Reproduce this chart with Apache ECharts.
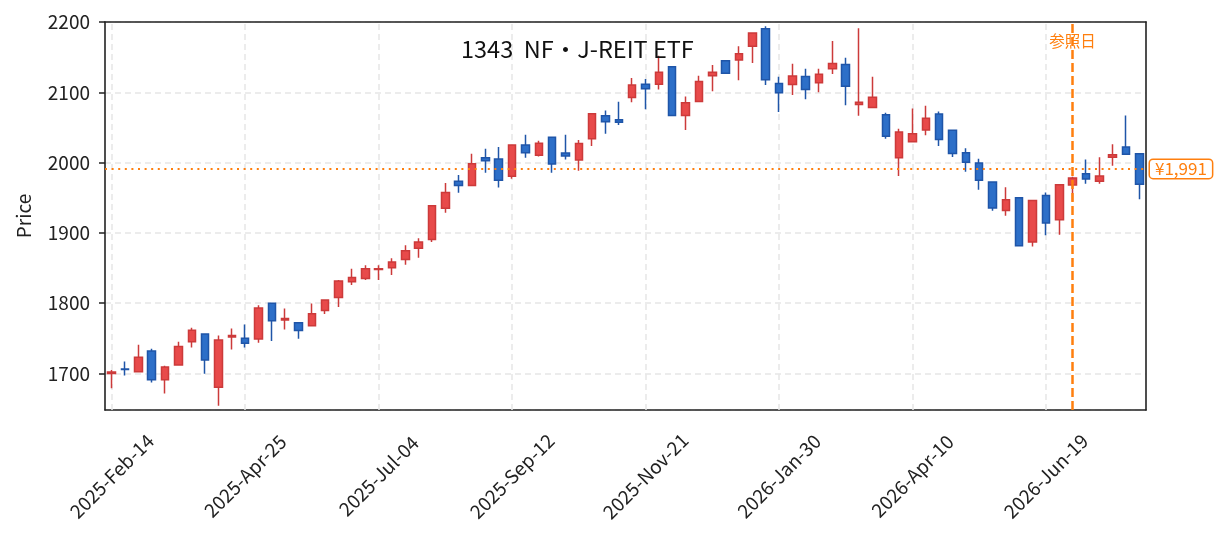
<!DOCTYPE html>
<html>
<head>
<meta charset="utf-8">
<script src="https://cdn.jsdelivr.net/npm/echarts@6/dist/echarts.min.js"></script>
<style>
  html, body { margin: 0; padding: 0; background: #fff; }
  #main { width: 1225px; height: 539px; }
</style>
</head>
<body>
<div id="main"></div>
<script>
// weekly bars, Friday dates
const dates = [
  '2025-Feb-14', '2025-Feb-21', '2025-Feb-28', '2025-Mar-07', '2025-Mar-14', '2025-Mar-21', '2025-Mar-28',
  '2025-Apr-04', '2025-Apr-11', '2025-Apr-18', '2025-Apr-25', '2025-May-02', '2025-May-09', '2025-May-16',
  '2025-May-23', '2025-May-30', '2025-Jun-06', '2025-Jun-13', '2025-Jun-20', '2025-Jun-27', '2025-Jul-04',
  '2025-Jul-11', '2025-Jul-18', '2025-Jul-25', '2025-Aug-01', '2025-Aug-08', '2025-Aug-15', '2025-Aug-22',
  '2025-Aug-29', '2025-Sep-05', '2025-Sep-12', '2025-Sep-19', '2025-Sep-26', '2025-Oct-03', '2025-Oct-10',
  '2025-Oct-17', '2025-Oct-24', '2025-Oct-31', '2025-Nov-07', '2025-Nov-14', '2025-Nov-21', '2025-Nov-28',
  '2025-Dec-05', '2025-Dec-12', '2025-Dec-19', '2025-Dec-26', '2026-Jan-02', '2026-Jan-09', '2026-Jan-16',
  '2026-Jan-23', '2026-Jan-30', '2026-Feb-06', '2026-Feb-13', '2026-Feb-20', '2026-Feb-27', '2026-Mar-06',
  '2026-Mar-13', '2026-Mar-20', '2026-Mar-27', '2026-Apr-03', '2026-Apr-10', '2026-Apr-17', '2026-Apr-24',
  '2026-May-01', '2026-May-08', '2026-May-15', '2026-May-22', '2026-May-29', '2026-Jun-05', '2026-Jun-12',
  '2026-Jun-19', '2026-Jun-26', '2026-Jul-03', '2026-Jul-10', '2026-Jul-17', '2026-Jul-24', '2026-Jul-31',
  '2026-Aug-07'
]

const opens = [
  1700, 1706.5, 1702.5, 1732, 1691, 1712, 1745, 1756, 1680.5, 1752,
  1750, 1749, 1800, 1776, 1772, 1768, 1789.5, 1808, 1830.5, 1835,
  1848, 1850.5, 1862, 1878, 1890.5, 1935, 1973.5, 1967.5, 2007, 2005,
  1980.5, 2025, 2010.5, 2036, 2013.5, 2003.5, 2034, 2066.5, 2061, 2092.5,
  2111.5, 2111.5, 2136.5, 2067, 2087, 2123.5, 2145, 2146, 2165.5, 2190.5,
  2112.5, 2111, 2122.5, 2113.5, 2133.5, 2139.5, 2082.5, 2078.5, 2068, 2007,
  2029.5, 2046.5, 2069, 2046, 2014, 1999.5, 1972.5, 1932, 1950, 1887,
  1953, 1918.5, 1968, 1984, 1973.5, 2007.5, 2022, 2012.5
]
const closes = [
  1702, 1705.5, 1723, 1691, 1709, 1738.5, 1761.5, 1719, 1747.5, 1754,
  1743, 1793, 1775, 1778, 1761, 1785, 1804.5, 1831.5, 1836.5, 1849,
  1849, 1858.5, 1874.5, 1887, 1938.5, 1957.5, 1967.5, 1998.5, 2002.5, 1975,
  2025, 2014, 2027.5, 1998, 2009.5, 2027, 2069.5, 2058, 2057.5, 2110.5,
  2105, 2128.5, 2067, 2085, 2115.5, 2128.5, 2127, 2155, 2184.5, 2118,
  2099.5, 2123, 2104, 2125.5, 2141, 2108.5, 2086, 2093, 2037.5, 2043.5,
  2041, 2063, 2033, 2013, 2000.5, 1975, 1935.5, 1947, 1881.5, 1946,
  1914, 1968.5, 1978, 1976.5, 1981, 2011, 2012, 1969
]
const lows = [
  1679, 1697, 1702, 1687, 1671.5, 1712, 1737, 1699.5, 1654, 1734,
  1737, 1743.5, 1746, 1762.5, 1749.5, 1768, 1784.5, 1794.5, 1826, 1833,
  1833, 1840, 1854.5, 1864.5, 1887, 1928.5, 1957, 1967, 1985.5, 1964.5,
  1977, 2007, 2008.5, 1985.5, 2004.5, 1988.5, 2023.5, 2041, 2053.5, 2086,
  2076, 2104, 2067, 2046.5, 2087, 2101.5, 2126, 2117, 2141.5, 2110.5,
  2072, 2096, 2090, 2100, 2126, 2081.5, 2066.5, 2078.5, 2034, 1981,
  2028.5, 2039, 2023.5, 2008, 1987, 1961.5, 1931.5, 1924.5, 1881.5, 1880.5,
  1896.5, 1897.5, 1945, 1970, 1970, 1995.5, 2012, 1948
]
const highs = [
  1705, 1717, 1741, 1735, 1711, 1745, 1765, 1756, 1754, 1764,
  1769.5, 1797, 1800, 1792.5, 1772, 1799.5, 1804.5, 1833, 1849, 1854,
  1854, 1864, 1882.5, 1892.5, 1938.5, 1971, 1982.5, 2012.5, 2019.5, 2022,
  2025, 2039.5, 2031, 2036, 2039.5, 2032, 2070, 2074, 2086.5, 2120.5,
  2119, 2152, 2137, 2094, 2123.5, 2139, 2145, 2165.5, 2185, 2194,
  2122, 2140.5, 2133.5, 2133.5, 2173, 2149, 2191, 2122, 2071, 2048,
  2077, 2081, 2072.5, 2046, 2020.5, 2005.5, 1972.5, 1965, 1950, 1946,
  1957.5, 1968.5, 1980, 2004.5, 2007.5, 2026, 2067, 2012.5
]

const refDate = '2026-Jul-03'
const refPrice = 1991
const yMin = 1648
const yMax = 2200

const candles = dates.map((d, i) => [opens[i], closes[i], lows[i], highs[i]])
// vertical grid lines sit on the labelled weeks
const labelDates = dates.filter((d, i) => i % 10 === 0)

const fontFamily = '"Noto Sans CJK JP", "Noto Sans", sans-serif'
const orange = '#ff7f0e'
const ink = '#222'

const myChart = echarts.init(document.getElementById('main'))

myChart.setOption({
  backgroundColor: '#fff',
  animation: false,
  textStyle: { fontFamily },
  title: {
    text: '1343  NF・J-REIT ETF',
    left: 456,
    top: 32,
    textStyle: { fontSize: 23.5, fontWeight: 'normal', color: '#111', fontFamily }
  },
  grid: {
    left: 105,
    right: 79,
    top: 22,
    bottom: 129
  },
  xAxis: [
    {
      type: 'category',
      data: dates,
      boundaryGap: true,
      axisLine: { lineStyle: { color: ink, width: 1.6 } },
      axisTick: { alignWithLabel: true, interval: 9, length: 6, lineStyle: { color: ink, width: 1.5 } },
      axisLabel: {
        interval: 9,
        rotate: 45,
        align: 'center',
        verticalAlign: 'middle',
        margin: 66,
        fontSize: 19,
        color: ink,
        fontFamily
      },
      splitLine: { show: false }
    },
    {
      type: 'category',
      data: dates,
      position: 'top',
      z: 10,
      axisLine: { show: true, lineStyle: { color: ink, width: 1.6 } },
      axisTick: { show: false },
      axisLabel: { show: false },
      splitLine: { show: false }
    }
  ],
  yAxis: [
    {
      type: 'value',
      min: yMin,
      max: yMax,
      splitNumber: 5,
      name: 'Price',
      nameLocation: 'middle',
      nameGap: 72,
      nameTextStyle: { fontSize: 19, color: ink, fontFamily },
      axisLine: { show: true, lineStyle: { color: ink, width: 1.6 } },
      axisTick: { show: true, length: 6, lineStyle: { color: ink, width: 1.5 } },
      axisLabel: {
        margin: 15,
        fontSize: 19,
        color: ink,
        fontFamily,
        showMinLabel: false,
        formatter: (v) => (v % 100 === 0 ? String(v) : '')
      },
      splitLine: { show: true, lineStyle: { color: '#e6e6e6', type: [6, 4], width: 1.5 } }
    },
    {
      type: 'value',
      min: yMin,
      max: yMax,
      position: 'right',
      z: 10,
      axisLine: { show: true, lineStyle: { color: ink, width: 1.6 } },
      axisTick: { show: false },
      axisLabel: { show: false },
      splitLine: { show: false }
    }
  ],
  series: [
    {
      name: 'grid',
      type: 'line',
      data: [],
      z: 1,
      silent: true,
      markLine: {
        z: 1,
        symbol: 'none',
        silent: true,
        animation: false,
        label: { show: false },
        lineStyle: { color: '#e6e6e6', type: [6, 4], width: 1.5 },
        data: labelDates.map((d) => ({ xAxis: d }))
      }
    },
    {
      name: '1343',
      type: 'candlestick',
      data: candles,
      barWidth: 8,
      z: 3,
      itemStyle: {
        color: '#e84a4a',
        color0: '#2d6fc8',
        borderColor: '#cc3a3a',
        borderColor0: '#1f55a8',
        borderWidth: 1.5
      },
      markLine: {
        z: 6,
        symbol: 'none',
        silent: true,
        animation: false,
        data: [
          {
            yAxis: refPrice,
            lineStyle: { color: orange, type: [2, 4.6], width: 2 },
            label: {
              show: true,
              position: 'end',
              distance: 4,
              formatter: '¥1,991',
              color: orange,
              fontSize: 17,
              fontFamily,
              backgroundColor: '#fff',
              borderColor: orange,
              borderWidth: 1.5,
              borderRadius: 3,
              padding: [1, 5, 0, 5]
            }
          },
          {
            xAxis: refDate,
            lineStyle: { color: orange, type: [9, 4], width: 2.5 },
            label: {
              show: true,
              position: 'end',
              distance: -27,
              formatter: '参照日',
              color: orange,
              fontSize: 15.5,
              fontFamily
            }
          }
        ]
      }
    }
  ]
})
</script>
</body>
</html>
